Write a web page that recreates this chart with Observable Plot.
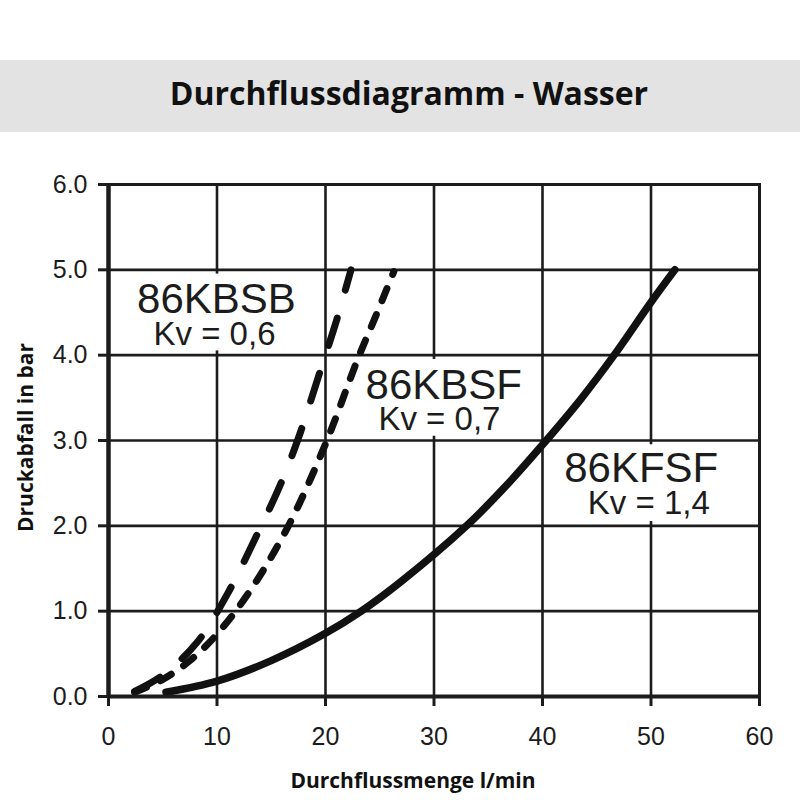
<!DOCTYPE html>
<html>
<head>
<meta charset="utf-8">
<script src="https://cdn.jsdelivr.net/npm/d3@7"></script>
<script src="https://cdn.jsdelivr.net/npm/@observablehq/plot@0.6"></script>
<style>
  body { margin: 0; background: white; }
  #spacer { height: 60px; }
  #title { height: 72px; background: #e3e3e3; font-family: "Open Sans"; font-weight: bold; font-size: 32px; line-height: 66px; text-align: center; padding-left: 18px; box-sizing: border-box; color: #111; }
  #chart svg { display: block; }
</style>
</head>
<body>
<div id="spacer"></div>
<div id="title">Durchflussdiagramm - Wasser</div>
<div id="chart"></div>
<script>
const titleText = "Durchflussdiagramm - Wasser";
const xLabel = "Durchflussmenge l/min";
const yLabel = "Druckabfall in bar";
const xTicks = [0, 10, 20, 30, 40, 50, 60];
const yTicks = [0, 1, 2, 3, 4, 5, 6];
const xGrid = [10, 20, 30, 40, 50];
const yGrid = [1, 2, 3, 4, 5];

const seriesNames = ["86KBSB", "86KBSF", "86KFSF"];
const seriesKv = ["Kv = 0,6", "Kv = 0,7", "Kv = 1,4"];

const kbsbFlow = [2.4, 5, 8.2, 10.95, 13.4, 15.9, 17.7, 19.3, 21.0, 22.35];
const kbsbDrop = [0.06, 0.25, 0.64, 1.2, 1.82, 2.5, 3.1, 3.73, 4.4, 5.0];
const kbsfFlow = [2.4, 5, 7.5, 10, 13, 16.5, 20, 22.96, 24.7, 26.3];
const kbsfDrop = [0.05, 0.2, 0.42, 0.73, 1.23, 1.98, 2.96, 3.95, 4.48, 4.98];
const kfsfFlow = [5.3, 10, 15, 20, 23.3, 27, 33, 36.5, 40, 43.5, 46.6, 50, 52.2];
const kfsfDrop = [0.05, 0.18, 0.42, 0.74, 1.0, 1.35, 2.0, 2.45, 2.95, 3.48, 4.0, 4.62, 5.0];

// label anchor positions in data units
const nameX = [9.95, 30.9, 49.1];
const nameY = [4.49, 3.49, 2.51];
const kvX = [9.77, 30.5, 49.8];
const kvY = [4.125, 3.12, 2.14];
// white label boxes (data units) that hide the grid behind the labels
const boxX1 = [1.5, 22.6, 41.3];
const boxX2 = [18.5, 39.4, 57.0];
const boxY1 = [4.05, 3.05, 2.05];
const boxY2 = [4.95, 3.95, 2.95];

const toRows = (flow, drop) => flow.map((q, i) => ({q, p: drop[i]}));
const kbsb = toRows(kbsbFlow, kbsbDrop);
const kbsf = toRows(kbsfFlow, kbsfDrop);
const kfsf = toRows(kfsfFlow, kfsfDrop);
const names = seriesNames.map((t, i) => ({t, x: nameX[i], y: nameY[i]}));
const kvs = seriesKv.map((t, i) => ({t, x: kvX[i], y: kvY[i]}));
const boxes = boxX1.map((x1, i) => ({x1, x2: boxX2[i], y1: boxY1[i], y2: boxY2[i]}));

const ink = "#1c1c1c";

const plot = Plot.plot({
  width: 800,
  height: 668,
  marginTop: 52,
  marginBottom: 104,
  marginLeft: 108,
  marginRight: 41,
  style: {fontFamily: "Liberation Sans", color: ink, background: "white"},
  x: {domain: [0, 60]},
  y: {domain: [0, 6]},
  marks: [
    Plot.ruleX(xGrid, {stroke: ink, strokeWidth: 2.6}),
    Plot.rect(boxes, {x1: "x1", x2: "x2", y1: "y1", y2: "y2", fill: "white"}),
    Plot.text(names, {x: "x", y: "y", text: "t", fontSize: 42, textAnchor: "middle", lineAnchor: "bottom", fill: ink}),
    Plot.text(kvs, {x: "x", y: "y", text: "t", fontSize: 33, textAnchor: "middle", lineAnchor: "bottom", fill: ink}),
    Plot.ruleY(yGrid, {stroke: ink, strokeWidth: 2.6}),
    Plot.line(kfsf, {x: "q", y: "p", curve: "catmull-rom", stroke: "#111", strokeWidth: 7.5, strokeLinecap: "round"}),
    Plot.line(kbsf, {x: "q", y: "p", curve: "catmull-rom", stroke: "#111", strokeWidth: 7, strokeLinecap: "round", strokeDasharray: "13,15"}),
    Plot.line(kbsb, {x: "q", y: "p", curve: "catmull-rom", stroke: "#111", strokeWidth: 7, strokeLinecap: "round", strokeDasharray: "29,29"}),
    Plot.frame({stroke: ink, strokeWidth: 3}),
    Plot.ruleX([0], {stroke: ink, strokeWidth: 4.5}),
    Plot.ruleY([0], {stroke: ink, strokeWidth: 4}),
    Plot.axisX({ticks: xTicks, tickSize: 10, tickPadding: 21, fontSize: 25, strokeWidth: 3, label: null, tickFormat: d => String(d)}),
    Plot.axisY({ticks: yTicks, tickSize: 10, tickPadding: 11, fontSize: 25, strokeWidth: 3, label: null, tickFormat: d => d.toFixed(1)}),
    Plot.text([yLabel], {text: d => d, frameAnchor: "left", rotate: -90, dx: -76, dy: -3, textAnchor: "middle", lineAnchor: "bottom", fontFamily: "Open Sans", fontWeight: "bold", fontSize: 21, fill: "#111"}),
    Plot.text([xLabel], {text: d => d, frameAnchor: "bottom", dx: -21, dy: 91, textAnchor: "middle", lineAnchor: "bottom", fontFamily: "Open Sans", fontWeight: "bold", fontSize: 21, fill: "#111"})
  ]
});
document.getElementById("chart").appendChild(plot);
</script>
</body>
</html>
